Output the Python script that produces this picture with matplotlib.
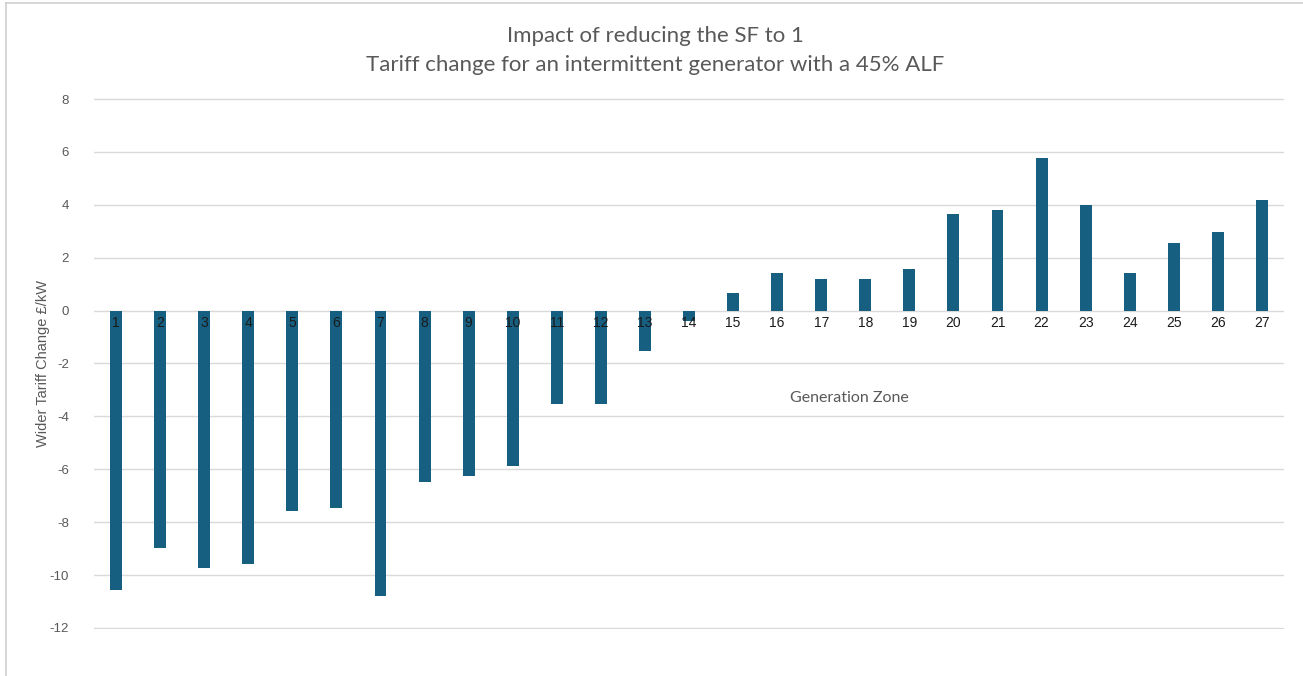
import matplotlib
matplotlib.use('Agg')
import matplotlib.pyplot as plt
from matplotlib.lines import Line2D

# --- Data ---
zones = [str(i) for i in range(1, 28)]
tariff_change = [-10.55, -8.96, -9.75, -9.6, -7.56, -7.45, -10.81, -6.47, -6.24, -5.86,
                 -3.52, -3.52, -1.51, -0.38, 0.67, 1.41, 1.2, 1.2, 1.58, 3.67,
                 3.82, 5.77, 3.98, 1.41, 2.56, 2.99, 4.19]
y_ticks = [8, 6, 4, 2, 0, -2, -4, -6, -8, -10, -12]

title_lines = ["Impact of reducing the SF to 1",
               "Tariff change for an intermittent generator with a 45% ALF"]

bar_color = '#175f80'
grey_text = '#595959'
grid_color = '#d9d9d9'

fig = plt.figure(figsize=(13.03, 6.76), dpi=100)
ax = fig.add_axes([94 / 1303, 47 / 676, 1190 / 1303, 531 / 676])

x = list(range(len(zones)))
ax.bar(x, tariff_change, width=0.27, color=bar_color, zorder=2)

ax.set_xlim(-0.5, len(zones) - 0.5)
ax.set_ylim(-12.04, 8.04)
ax.set_yticks(y_ticks)
ax.set_yticklabels([str(t) for t in y_ticks], fontsize=9.5, color=grey_text,
                   family='Liberation Sans')
ax.tick_params(axis='y', length=0, pad=18)
ax.set_xticks([])
ax.grid(axis='y', color=grid_color, linewidth=1, zorder=0)
ax.set_axisbelow(True)
for spine in ax.spines.values():
    spine.set_visible(False)

# category labels sit just below the zero line
for xi, label in zip(x, zones):
    ax.text(xi, -0.45, label, ha='center', va='center', fontsize=10,
            color='#1a1a1a', family='Liberation Sans', zorder=3)

ax.text(0.635, 0.435, 'Generation Zone', transform=ax.transAxes,
        ha='center', va='center', fontsize=11.5, color=grey_text, family='Lato')

ax.set_ylabel('Wider Tariff Change £/kW', fontsize=10.5, color=grey_text,
              family='Liberation Sans')
ax.yaxis.set_label_coords(-0.037, 0.5)

fig.text(655 / 1303, 1 - 36 / 676, title_lines[0], ha='center', va='center',
         fontsize=16, color=grey_text, family='Lato')
fig.text(655 / 1303, 1 - 65 / 676, title_lines[1], ha='center', va='center',
         fontsize=16, color=grey_text, family='Lato')

# chart frame edges
fig.add_artist(Line2D([6 / 1303, 1], [1 - 3 / 676, 1 - 3 / 676], color='#d0d0d0', linewidth=1.2))
fig.add_artist(Line2D([6 / 1303, 6 / 1303], [0, 1 - 3 / 676], color='#d0d0d0', linewidth=1.2))

fig.savefig('out.png', dpi=100, facecolor='white')
